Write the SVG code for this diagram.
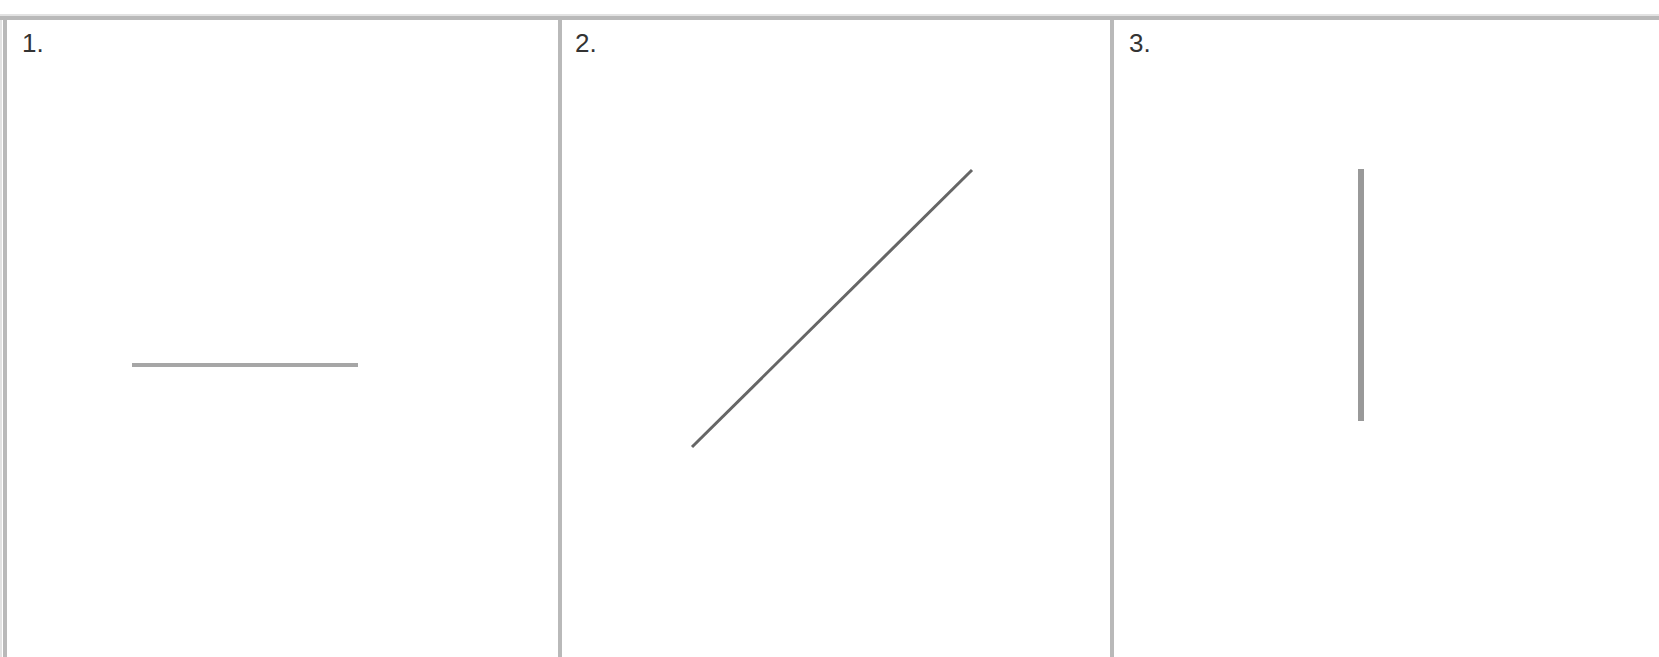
<svg xmlns="http://www.w3.org/2000/svg" width="1659" height="657" viewBox="0 0 1659 657">
<style>
.border{stroke:#b9b9b9;stroke-width:4;fill:none}
.glow{stroke:#e2e2e2;stroke-width:2;fill:none}
.lbl{font-family:"Liberation Sans",Arial,sans-serif;font-size:26px;fill:#333}
</style>
<rect width="1659" height="657" fill="#ffffff"/>
<g id="frame">
<line class="glow" x1="0" y1="15" x2="1659" y2="15"/>
<line class="glow" x1="1" y1="17" x2="1" y2="657"/>
<line class="border" x1="0" y1="18" x2="1659" y2="18"/>
<line class="border" x1="5" y1="17" x2="5" y2="657"/>
<line class="border" x1="560" y1="17" x2="560" y2="657"/>
<line class="border" x1="1112" y1="17" x2="1112" y2="657"/>
</g>
<g id="panel1">
<text class="lbl" x="22" y="52">1.</text>
<line x1="132" y1="365" x2="358" y2="365" stroke="#a6a6a6" stroke-width="4"/>
</g>
<g id="panel2">
<text class="lbl" x="575" y="52">2.</text>
<line x1="692" y1="447" x2="972" y2="170" stroke="#666666" stroke-width="3"/>
</g>
<g id="panel3">
<text class="lbl" x="1129" y="52">3.</text>
<line x1="1361" y1="169" x2="1361" y2="421" stroke="#999999" stroke-width="6"/>
</g>
</svg>
